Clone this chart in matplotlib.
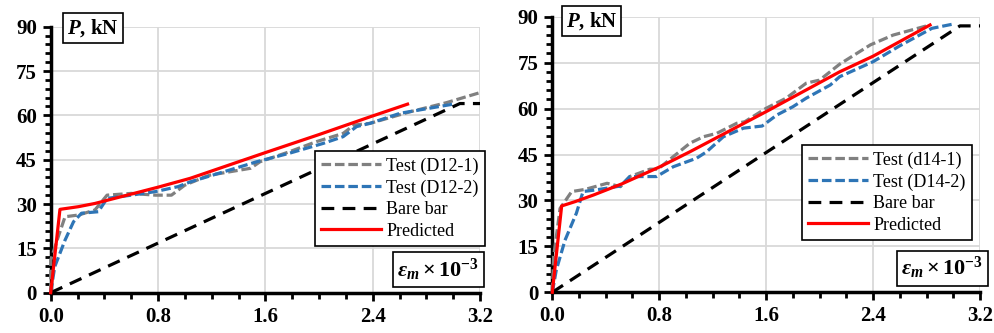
import numpy as np
import matplotlib
matplotlib.use("Agg")
import matplotlib.pyplot as plt
from matplotlib.ticker import MultipleLocator

plt.rcParams['font.family'] = ['Liberation Serif', 'DejaVu Serif']
plt.rcParams['mathtext.fontset'] = 'custom'
plt.rcParams['mathtext.rm'] = 'Liberation Serif:bold'
plt.rcParams['mathtext.it'] = 'Liberation Serif:italic:bold'
plt.rcParams['mathtext.bf'] = 'Liberation Serif:bold'

# --- D12 (left panel) ---
d12_test1_x = [0, 0.0, 0.057, 0.107, 0.21, 0.33, 0.42, 0.6, 0.78, 0.9, 1.0, 1.15, 1.19, 1.49, 1.56, 1.78,
               1.98, 2.18, 2.26, 2.38, 2.678, 2.95, 3.2]
d12_test1_y = [0, 11, 19, 25.7, 26.3, 28, 33, 33.6, 33, 33, 36.4, 39.2, 39.8, 42.1, 44.3, 47.7,
               51.1, 53.9, 56.7, 57.3, 61.2, 64.3, 67.7]
d12_test2_x = [0, 0.03, 0.107, 0.17, 0.23, 0.355, 0.42, 0.6, 0.78, 0.95, 1.04, 1.29, 1.535, 1.78, 2.03,
               2.18, 2.28, 2.38, 2.604, 3.0]
d12_test2_y = [0, 8.8, 17.8, 24, 26.9, 27.4, 31.9, 33, 34.2, 35.9, 37.5, 40.9, 44.3, 47.2, 50.5,
               52.8, 56.2, 57.3, 60.7, 63.8]
d12_bare_x = [0, 3.05, 3.2]
d12_bare_y = [0, 64, 64]
d12_pred_x = [0, 0.069, 0.206, 0.33, 0.8, 1.04, 1.6, 2.0, 2.38, 2.66]
d12_pred_y = [0, 28.2, 29.1, 30.2, 35.7, 38.7, 47.4, 53.5, 59.5, 63.8]

# --- D14 (right panel) ---
d14_test1_x = [0, 0.01, 0.058, 0.145, 0.245, 0.41, 0.51, 0.58, 0.73, 0.79, 0.905, 1.03, 1.13, 1.23,
               1.38, 1.44, 1.6, 1.75, 1.9, 2.0, 2.15, 2.38, 2.55, 2.8]
d14_test1_y = [0, 11.6, 27.4, 32.9, 33.6, 35.6, 34.5, 37.8, 40.2, 40.2, 44.3, 48.7, 50.8, 51.9,
               55.2, 55.7, 60.1, 63.4, 68.3, 69.3, 74.5, 80.8, 84.0, 87.0]
d14_test2_x = [0, 0.03, 0.095, 0.18, 0.23, 0.32, 0.51, 0.58, 0.78, 0.905, 1.08, 1.155, 1.28, 1.43,
               1.57, 1.68, 1.8, 1.9, 2.08, 2.15, 2.4, 2.6, 2.84, 3.0]
d14_test2_y = [0, 7.3, 17, 25.8, 32.9, 33.4, 34.7, 37.8, 37.8, 41.0, 43.8, 45.9, 50.8, 53.6,
               54.3, 57.9, 60.6, 63.4, 67.7, 70.4, 75.3, 80.5, 86.2, 87.6]
d14_bare_x = [0, 3.05, 3.2]
d14_bare_y = [0, 87, 87]
d14_pred_x = [0, 0.07, 0.17, 0.31, 0.52, 0.806, 1.03, 1.6, 2.15, 2.4, 2.826]
d14_pred_y = [0, 28.2, 29.6, 31.8, 35.4, 41.0, 45.9, 59.0, 72.0, 77.1, 87.3]

labels_left = ['Test (D12-1)', 'Test (D12-2)', 'Bare bar', 'Predicted']
labels_right = ['Test (d14-1)', 'Test (D14-2)', 'Bare bar', 'Predicted']

GRAY = '#808080'
BLUE = '#2e75b6'
RED = '#ff0000'

W, H = 995, 333
fig = plt.figure(figsize=(W / 100, H / 100), dpi=100)


def px_axes(x0, x1, ytop, ybot):
    return fig.add_axes([x0 / W, (H - ybot) / H, (x1 - x0) / W, (ybot - ytop) / H])


def style_axes(ax):
    ax.set_xlim(0, 3.2)
    ax.set_ylim(0, 90)
    ax.xaxis.set_major_locator(MultipleLocator(0.8))
    ax.xaxis.set_minor_locator(MultipleLocator(0.2))
    ax.yaxis.set_major_locator(MultipleLocator(15))
    ax.yaxis.set_minor_locator(MultipleLocator(3))
    ax.xaxis.set_major_formatter(matplotlib.ticker.FormatStrFormatter('%.1f'))
    ax.grid(True, which='major', color='#d9d9d9', linewidth=1.3, zorder=0)
    ax.set_axisbelow(True)
    for s in ['top', 'right']:
        ax.spines[s].set_visible(False)
    for s in ['left', 'bottom']:
        ax.spines[s].set_linewidth(2.5)
    ax.tick_params(which='major', direction='out', length=6, width=2, labelsize=15, pad=4)
    ax.tick_params(which='minor', direction='out', length=4, width=2)
    for lab in ax.get_xticklabels() + ax.get_yticklabels():
        lab.set_fontweight('bold')


def draw_panel(ax, t1x, t1y, t2x, t2y, bx, by, px, py, labels):
    ax.plot(t1x, t1y, color=GRAY, lw=2.3, dashes=(3, 1.2), label=labels[0], clip_on=False, zorder=3)
    ax.plot(t2x, t2y, color=BLUE, lw=2.3, dashes=(3, 1.2), label=labels[1], clip_on=False, zorder=3)
    ax.plot(bx, by, color='black', lw=2.3, dashes=(4, 2.6), label=labels[2], clip_on=False, zorder=3)
    ax.plot(px, py, color=RED, lw=2.3, label=labels[3], clip_on=False, zorder=4)


ax1 = px_axes(50.7, 480, 26.7, 292.7)
style_axes(ax1)
draw_panel(ax1, d12_test1_x, d12_test1_y, d12_test2_x, d12_test2_y,
           d12_bare_x, d12_bare_y, d12_pred_x, d12_pred_y, labels_left)

ax2 = px_axes(552.3, 980, 16.7, 292.3)
style_axes(ax2)
draw_panel(ax2, d14_test1_x, d14_test1_y, d14_test2_x, d14_test2_y,
           d14_bare_x, d14_bare_y, d14_pred_x, d14_pred_y, labels_right)

box = dict(boxstyle='square,pad=0.2', facecolor='white', edgecolor='black', linewidth=1.2)

for ax, pk, eps, leg in [(ax1, (0.0985, 0.995), (0.903, 0.087), (1.012, 0.176)),
                         (ax2, (0.0917, 0.983), (0.912, 0.088), (0.981, 0.19))]:
    ax.text(pk[0], pk[1], r'$P$, kN', transform=ax.transAxes, ha='center', va='center',
            fontsize=15, fontweight='bold', bbox=box, zorder=6, clip_on=False)
    ax.text(eps[0], eps[1], r'$\varepsilon_m \times 10^{-3}$', transform=ax.transAxes,
            ha='center', va='center', fontsize=16, bbox=dict(box, pad=0.3), zorder=6)
    lg = ax.legend(loc='lower right', bbox_to_anchor=leg, borderaxespad=0, fontsize=13,
                   handlelength=3.3, handletextpad=0.3, labelspacing=0.25, borderpad=0.35,
                   fancybox=False, framealpha=1, edgecolor='black')
    lg.get_frame().set_linewidth(1.2)
    lg.set_zorder(7)

fig.savefig('out.png', dpi=100)
